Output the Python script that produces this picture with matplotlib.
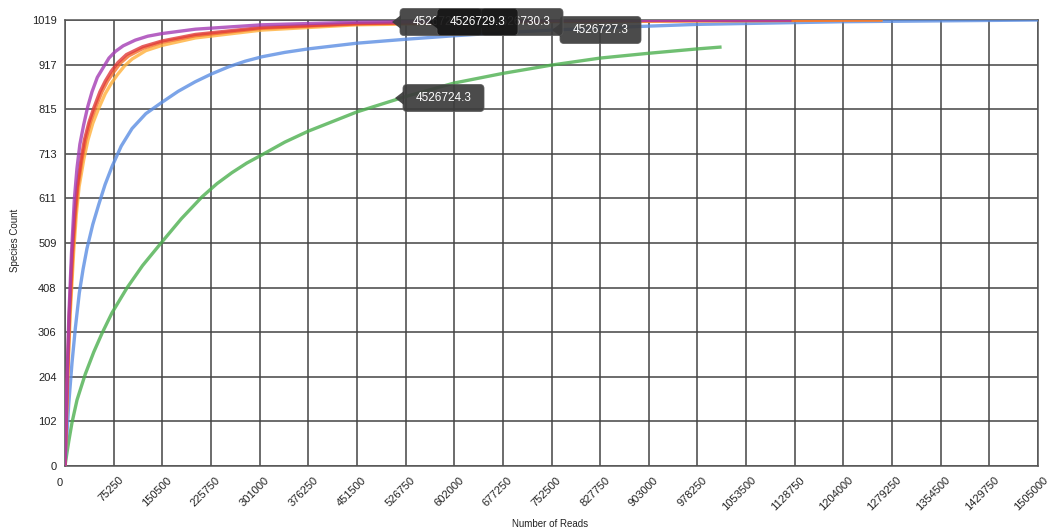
#!/usr/bin/env python3
"""Rarefaction curves: species count vs number of reads, six samples."""
import matplotlib
matplotlib.use("Agg")
import matplotlib.pyplot as plt
from matplotlib.patches import FancyBboxPatch, Polygon
from matplotlib.transforms import ScaledTranslation

plt.rcParams["font.family"] = ["Liberation Sans", "DejaVu Sans"]

# ---- data ------------------------------------------------------------------
X_TICKS = [0, 75250, 150500, 225750, 301000, 376250, 451500, 526750, 602000,
           677250, 752500, 827750, 903000, 978250, 1053500, 1128750, 1204000,
           1279250, 1354500, 1429750, 1505000]
X_TICK_LABELS = ["0", "75250", "150500", "225750", "301000", "376250",
                 "451500", "526750", "602000", "677250", "752500", "827750",
                 "903000", "978250", "1053500", "1128750", "1204000",
                 "1279250", "1354500", "1429750", "1505000"]
Y_TICKS = [0, 101.9, 203.8, 305.7, 407.6, 509.5, 611.4, 713.3, 815.2, 917.1, 1019]
Y_TICK_LABELS = ["0", "102", "204", "306", "408", "509", "611", "713", "815",
                 "917", "1019"]

green_x = [0, 3000, 6000, 10800, 18600, 31400, 44400, 57200, 72700, 95900,
           120000, 150000, 180000, 212000, 235000, 258000, 281000, 304700,
           340000, 376250, 451500, 526750, 602000, 677250, 752500, 827750,
           903000, 978250, 1013000]
green_y = [0, 30, 58, 99, 151, 210, 260, 303, 350, 407, 458, 512, 565, 615,
           645, 670, 692, 711, 740, 765, 809, 844, 875, 897, 916, 932, 943,
           953, 957]

blue_x = [0, 5700, 10800, 16000, 22100, 28000, 34000, 43000, 52100, 62000,
          72700, 87000, 103700, 125000, 150000, 175000, 201600, 227000, 253000,
          279000, 304700, 340000, 376250, 451500, 526750, 602000, 677250,
          752500, 865000, 978250, 1200000, 1505000]
blue_y = [0, 140, 235, 315, 395, 450, 497, 552, 597, 643, 684, 731, 771, 805,
          831, 856, 878, 896, 912, 925, 935, 945, 953, 966, 975, 983, 990, 996,
          1003, 1009, 1015, 1019]

lorange_x = [0, 4000, 8000, 13200, 17500, 21800, 29000, 35500, 43000, 51500,
             62000, 71500, 81000, 92000, 104000, 125000, 150000, 201600,
             304700, 451500, 752500, 1262000]
lorange_y = [0, 190, 345, 485, 575, 638, 700, 745, 783, 815, 850, 874, 894,
             914, 930, 949, 961, 978, 996, 1008, 1015, 1019]

orange_x = [0, 3600, 7200, 12000, 16000, 20000, 26300, 32000, 39100, 47000,
            57200, 66000, 75300, 86000, 98500, 122000, 150000, 201600, 304700,
            451500, 752500, 1262000]
orange_y = [0, 190, 345, 485, 575, 638, 700, 745, 785, 818, 855, 880, 900,
            921, 937, 955, 968, 983, 1000, 1010, 1016, 1019]

red_x = [0, 3300, 6600, 11000, 15000, 18800, 24800, 30000, 37000, 44500,
         54000, 62500, 71500, 82000, 95000, 120000, 150000, 201600, 304700,
         451500, 752500, 1121000]
red_y = [0, 190, 345, 485, 575, 638, 700, 745, 785, 818, 855, 880, 902, 922,
         940, 958, 971, 986, 1002, 1011, 1017, 1019]

purple_x = [0, 3000, 6000, 10000, 14500, 18500, 23000, 28800, 35000, 41800,
            50000, 59800, 68000, 77800, 90000, 108700, 128000, 150000, 201600,
            304700, 451500, 752500, 1121000]
purple_y = [0, 190, 345, 485, 610, 680, 735, 779, 820, 855, 888, 912, 932, 947,
            960, 973, 982, 988, 998, 1008, 1014, 1018, 1019]

SERIES = [
    (green_x, green_y, "#4cb04f"),
    (blue_x, blue_y, "#5b8ee3"),
    (lorange_x, lorange_y, "#ffb03a"),
    (orange_x, orange_y, "#f36d2c"),
    (red_x, red_y, "#e03a3a"),
    (purple_x, purple_y, "#a43cb4"),
]

TOOLTIP_LABELS = ["4526728.3", "4526730.3", "4526729.3", "4526727.3", "4526724.3"]

W, H = 1050, 530
AX_L, AX_R, AX_T, AX_B = 65, 1038, 20, 466


def px_to_axes(px, py):
    return (px - AX_L) / (AX_R - AX_L), (AX_B - py) / (AX_B - AX_T)


def tooltip(ax, tip_px, cy_px, text, face, z):
    box_l = tip_px + 8
    bw, bh = 81, 27
    x0, y0 = px_to_axes(box_l, cy_px + bh / 2)
    x1, y1 = px_to_axes(box_l + bw, cy_px - bh / 2)
    fx = 1.0 / (AX_R - AX_L)
    box = FancyBboxPatch((x0, y0), x1 - x0, y1 - y0,
                         boxstyle=f"round,pad=0,rounding_size={4 * fx}",
                         transform=ax.transAxes, facecolor=face,
                         edgecolor="#5a5a5a", linewidth=0.6, alpha=0.92,
                         clip_on=False, zorder=z,
                         mutation_aspect=(AX_R - AX_L) / (AX_B - AX_T))
    ax.add_patch(box)
    tip = [px_to_axes(tip_px, cy_px), px_to_axes(box_l + 1, cy_px - 7),
           px_to_axes(box_l + 1, cy_px + 7)]
    ax.add_patch(Polygon(tip, closed=True, transform=ax.transAxes,
                         facecolor=face, edgecolor="none", alpha=0.92,
                         clip_on=False, zorder=z))
    tx, ty = px_to_axes(box_l + bw / 2, cy_px)
    ax.text(tx, ty, text, transform=ax.transAxes, ha="center", va="center",
            color="white", fontsize=8.5, zorder=z + 0.1, clip_on=False)


def main():
    fig = plt.figure(figsize=(W / 100, H / 100), dpi=100)
    ax = fig.add_axes([AX_L / W, 1 - AX_B / H, (AX_R - AX_L) / W,
                       (AX_B - AX_T) / H])

    for xs, ys, col in SERIES:
        ax.plot(xs, ys, color=col, linewidth=2.4, alpha=0.8,
                solid_joinstyle="round", zorder=3)

    ax.set_xlim(0, 1505000)
    ax.set_ylim(0, 1019)
    ax.set_xticks(X_TICKS)
    ax.set_xticklabels(X_TICK_LABELS)
    ax.set_yticks(Y_TICKS)
    ax.set_yticklabels(Y_TICK_LABELS)
    ax.grid(True, color="#444444", linewidth=1.1, zorder=1)
    ax.set_axisbelow(True)
    for sp in ax.spines.values():
        sp.set_color("#555555")
        sp.set_linewidth(1.1)
    ax.tick_params(length=0, labelsize=8, colors="#222222")
    ax.tick_params(axis="y", pad=6)
    ax.tick_params(axis="x", pad=9)

    shift = ScaledTranslation(8 / 100, 0, fig.dpi_scale_trans)
    for i, lbl in enumerate(ax.get_xticklabels()):
        if i == 0:
            lbl.set_rotation(0)
            lbl.set_ha("center")
            lbl.set_transform(lbl.get_transform()
                              + ScaledTranslation(-5 / 100, 0, fig.dpi_scale_trans))
        else:
            lbl.set_rotation(45)
            lbl.set_ha("right")
            lbl.set_va("center")
            lbl.set_rotation_mode("anchor")
            lbl.set_transform(lbl.get_transform() + shift)

    fig.text(15 / W, 1 - 240 / H, "Species Count", rotation=90,
             ha="center", va="center", fontsize=7, color="#222222")
    fig.text(550 / W, 1 - 524 / H, "Number of Reads", ha="center",
             va="center", fontsize=7, color="#222222")

    # hover tooltips, overlapping as in the source screenshot
    tooltip(ax, 392, 22, TOOLTIP_LABELS[0], "#3c3c3c", 5)
    tooltip(ax, 474, 22, TOOLTIP_LABELS[1], "#3c3c3c", 6)
    tooltip(ax, 429, 22, TOOLTIP_LABELS[2], "#161616", 7)
    tooltip(ax, 552, 30, TOOLTIP_LABELS[3], "#3c3c3c", 5)
    tooltip(ax, 395, 98, TOOLTIP_LABELS[4], "#3c3c3c", 5)

    fig.savefig("out.png", dpi=100)
    plt.close(fig)


if __name__ == "__main__":
    main()
